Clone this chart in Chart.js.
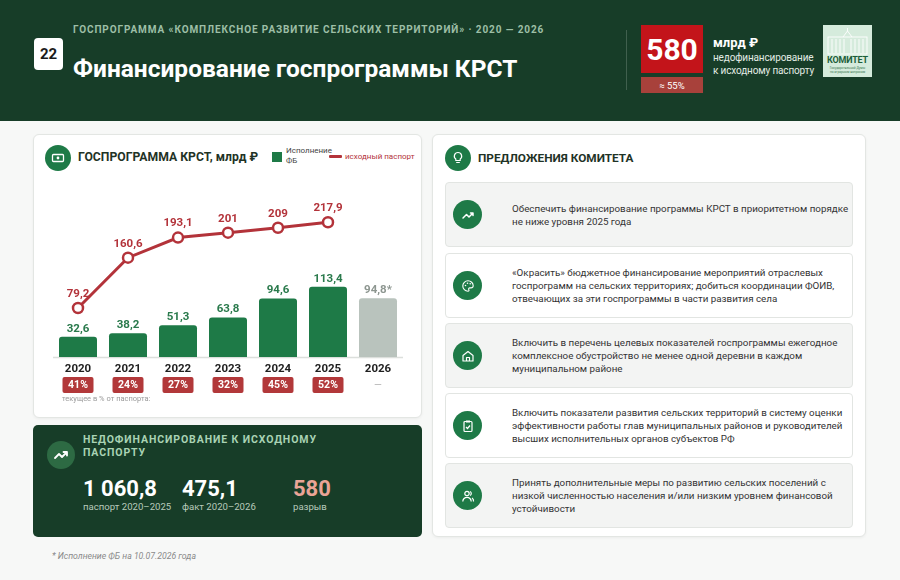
<!DOCTYPE html>
<html lang="ru">
<head>
<meta charset="utf-8">
<title>Финансирование госпрограммы КРСТ</title>
<script src="https://cdn.jsdelivr.net/npm/chart.js"></script>
<style>
  * { box-sizing: border-box; margin: 0; padding: 0; }
  body { width: 900px; height: 580px; background: #f7f8f7; font-family: Roboto, "Liberation Sans", Arial, sans-serif; position: relative; overflow: hidden; color: #333; }
  .abs { position: absolute; }
  .header { left: 0; top: 0; width: 900px; height: 121px; background: #173d28; }
  .kicker { left: 73px; top: 24px; font-size: 10px; font-weight: bold; letter-spacing: 0.9px; color: #9dbfa6; white-space: nowrap; }
  .badge { left: 34px; top: 38px; width: 29px; height: 32px; background: #fff; border-radius: 4px; font-weight: bold; font-size: 15px; color: #1a1a1a; display: flex; align-items: center; justify-content: center; }
  .title { left: 73px; top: 55px; font-size: 24.5px; line-height: 28px; font-weight: bold; color: #fff; white-space: nowrap; }
  .divider { left: 626px; top: 30px; width: 1px; height: 60px; background: rgba(255,255,255,0.18); }
  .bigbox { left: 641px; top: 25px; width: 62px; height: 48px; background: #c3141a; color: #fff; font-weight: bold; font-size: 30px; display: flex; align-items: center; justify-content: center; }
  .pctbox { left: 641px; top: 77px; width: 62px; height: 16px; background: #a8413b; color: #fff; font-size: 9.5px; display: flex; align-items: center; justify-content: center; }
  .unit { left: 713px; top: 35px; color: #fff; font-size: 13px; font-weight: bold; white-space: nowrap; }
  .unitsub { left: 713px; top: 51px; color: #e2ebe4; font-size: 10px; line-height: 13px; letter-spacing: -0.15px; white-space: nowrap; }
  .logo { left: 823px; top: 25px; width: 49px; height: 52px; background: #d5ebdc; overflow: hidden; }
  .logo .lt { position: absolute; left: 0; top: 30px; width: 49px; text-align: center; font-size: 9px; font-weight: bold; color: #1d5e3a; letter-spacing: -0.2px; }
  .logo .ls { position: absolute; left: 2px; width: 45px; text-align: center; font-size: 3.2px; color: #3f7a55; white-space: nowrap; }

  .card { background: #fff; border: 1px solid #e3e6e3; border-radius: 6px; box-shadow: 0 1px 3px rgba(0,0,0,0.05); }
  .circ { border-radius: 50%; background: #1e7a47; display: flex; align-items: center; justify-content: center; }
  .cardtitle { font-weight: bold; font-size: 12.2px; color: #1f3326; white-space: nowrap; }
  .leg { font-size: 8px; color: #444; line-height: 10px; white-space: nowrap; }

  .item { position: absolute; left: 445px; width: 408px; height: 65px; border: 1px solid #e2e5e2; border-radius: 4px; display: flex; align-items: center; }
  .item.g { background: #f3f4f3; }
  .item.w { background: #fff; }
  .item .ic { position: absolute; left: 7px; top: 17px; width: 29px; height: 29px; }
  .item .tx { margin-left: 66px; font-size: 9.8px; line-height: 13px; color: #333; white-space: nowrap; }

  .dark { left: 33px; top: 425px; width: 389px; height: 112px; background: #173d28; border-radius: 5px; }
  .dtitle { left: 83px; top: 433px; font-size: 10.5px; line-height: 13px; font-weight: bold; letter-spacing: 0.9px; color: #a9d3b4; white-space: nowrap; }
  .num { font-size: 22px; font-weight: bold; color: #fff; white-space: nowrap; }
  .numsub { font-size: 9.6px; color: #b8cabb; white-space: nowrap; }
  .foot { left: 52px; top: 551px; font-size: 8.7px; font-style: italic; color: #8a8a8a; }
</style>
</head>
<body>

<div class="abs header"></div>
<div class="abs kicker">ГОСПРОГРАММА «КОМПЛЕКСНОЕ РАЗВИТИЕ СЕЛЬСКИХ ТЕРРИТОРИЙ» · 2020 — 2026</div>
<div class="abs badge">22</div>
<div class="abs title">Финансирование госпрограммы КРСТ</div>
<div class="abs divider"></div>
<div class="abs bigbox">580</div>
<div class="abs pctbox">≈ 55%</div>
<div class="abs unit">млрд ₽</div>
<div class="abs unitsub">недофинансирование<br>к исходному паспорту</div>
<div class="abs logo">
  <svg width="49" height="30" viewBox="0 0 49 30" style="position:absolute;left:0;top:0">
    <g fill="none" stroke="#ffffff" stroke-width="0.9">
      <path d="M20 12 L24.5 6 L29 12"/>
      <path d="M24.5 6 V3"/>
      <rect x="5" y="12" width="39" height="17"/>
      <path d="M9 14v14 M13 14v14 M17 14v14 M21 14v14 M28 14v14 M32 14v14 M36 14v14 M40 14v14"/>
    </g>
  </svg>
  <div class="lt">КОМИТЕТ</div>
  <div class="ls" style="top:41px">Государственной Думы</div>
  <div class="ls" style="top:45px">по аграрным вопросам</div>
</div>

<!-- левая карточка с графиком -->
<div class="abs card" style="left:33px;top:134px;width:389px;height:284px;"></div>
<div class="abs circ" style="left:45px;top:145px;width:26px;height:26px;">
  <svg width="14" height="14" viewBox="0 0 14 14"><rect x="1.5" y="3.5" width="11" height="7" rx="1" fill="none" stroke="#fff" stroke-width="1.3"/><circle cx="7" cy="7" r="1.4" fill="#fff"/></svg>
</div>
<div class="abs cardtitle" style="left:78px;top:150px;">ГОСПРОГРАММА КРСТ, млрд ₽</div>
<div class="abs" style="left:272px;top:152px;width:10px;height:10px;background:#1e7a47;"></div>
<div class="abs leg" style="left:286px;top:146px;">Исполнение<br>ФБ</div>
<div class="abs" style="left:329px;top:155px;width:13px;height:3px;background:#b3333a;border-radius:1px;"></div>
<div class="abs leg" style="left:345px;top:152px;color:#b3333a;">исходный паспорт</div>
<canvas id="krstChart" class="abs" style="left:33px;top:180px;" width="389" height="230"></canvas>

<!-- недофинансирование -->
<div class="abs dark"></div>
<div class="abs circ" style="left:47px;top:441px;width:28px;height:28px;background:#2d6a43;">
  <svg width="16" height="16" viewBox="0 0 16 16"><path d="M2 11 L6 7 L9 10 L14 5 M10.5 5 H14 V8.5" fill="none" stroke="#fff" stroke-width="1.8" stroke-linecap="round" stroke-linejoin="round"/></svg>
</div>
<div class="abs dtitle">НЕДОФИНАНСИРОВАНИЕ К ИСХОДНОМУ<br>ПАСПОРТУ</div>
<div class="abs num" style="left:83px;top:476px;">1 060,8</div>
<div class="abs numsub" style="left:83px;top:501px;">паспорт 2020–2025</div>
<div class="abs num" style="left:182px;top:476px;">475,1</div>
<div class="abs numsub" style="left:182px;top:501px;">факт 2020–2026</div>
<div class="abs num" style="left:293px;top:476px;color:#e9a496;">580</div>
<div class="abs numsub" style="left:293px;top:501px;">разрыв</div>
<div class="abs foot">* Исполнение ФБ на 10.07.2026 года</div>

<!-- правая карточка -->
<div class="abs card" style="left:432px;top:134px;width:434px;height:403px;"></div>
<div class="abs circ" style="left:445px;top:145px;width:26px;height:26px;">
  <svg width="14" height="14" viewBox="0 0 14 14"><path d="M7 1.5 a3.6 3.6 0 0 1 2.2 6.5 V9.5 H4.8 V8 A3.6 3.6 0 0 1 7 1.5 Z M5.2 11.5 H8.8" fill="none" stroke="#fff" stroke-width="1.2" stroke-linejoin="round"/></svg>
</div>
<div class="abs cardtitle" style="left:478px;top:151px;font-size:11.8px;">ПРЕДЛОЖЕНИЯ КОМИТЕТА</div>

<div class="item g" style="top:182px;">
  <div class="ic circ"><svg width="14" height="14" viewBox="0 0 14 14"><path d="M2 10 L5.5 6.5 L8 9 L12 5 M9.5 5 H12 V7.5" fill="none" stroke="#fff" stroke-width="1.5" stroke-linecap="round" stroke-linejoin="round"/></svg></div>
  <div class="tx">Обеспечить финансирование программы КРСТ в приоритетном порядке<br>не ниже уровня 2025 года</div>
</div>
<div class="item w" style="top:253px;">
  <div class="ic circ"><svg width="14" height="14" viewBox="0 0 14 14"><path d="M7 1.8 A5.2 5.2 0 1 0 7 12.2 c1 0 1.2-0.8 0.8-1.5 c-0.5-0.9 0-1.8 1-1.8 H10 A2.2 2.2 0 0 0 12.2 6.8 C12.2 4 9.9 1.8 7 1.8 Z" fill="none" stroke="#fff" stroke-width="1.1"/><circle cx="4.5" cy="6.5" r="0.8" fill="#fff"/><circle cx="6.5" cy="4.3" r="0.8" fill="#fff"/><circle cx="9.2" cy="4.8" r="0.8" fill="#fff"/></svg></div>
  <div class="tx">«Окрасить» бюджетное финансирование мероприятий отраслевых<br>госпрограмм на сельских территориях; добиться координации ФОИВ,<br>отвечающих за эти госпрограммы в части развития села</div>
</div>
<div class="item g" style="top:323px;">
  <div class="ic circ"><svg width="14" height="14" viewBox="0 0 14 14"><path d="M2 6.5 L7 2.5 L12 6.5 V12 H2 Z M5.5 12 V8.5 H8.5 V12" fill="none" stroke="#fff" stroke-width="1.2" stroke-linejoin="round"/></svg></div>
  <div class="tx">Включить в перечень целевых показателей госпрограммы ежегодное<br>комплексное обустройство не менее одной деревни в каждом<br>муниципальном районе</div>
</div>
<div class="item w" style="top:393px;">
  <div class="ic circ"><svg width="14" height="14" viewBox="0 0 14 14"><rect x="3" y="2.5" width="8" height="10" rx="1" fill="none" stroke="#fff" stroke-width="1.2"/><rect x="5" y="1.5" width="4" height="2" fill="#fff"/><path d="M5 8 L6.5 9.5 L9 6.5" fill="none" stroke="#fff" stroke-width="1.2"/></svg></div>
  <div class="tx">Включить показатели развития сельских территорий в систему оценки<br>эффективности работы глав муниципальных районов и руководителей<br>высших исполнительных органов субъектов РФ</div>
</div>
<div class="item g" style="top:463px;">
  <div class="ic circ"><svg width="14" height="14" viewBox="0 0 14 14"><circle cx="6" cy="4.5" r="2.2" fill="none" stroke="#fff" stroke-width="1.2"/><path d="M1.8 12.5 a4.2 4.2 0 0 1 8.4 0" fill="none" stroke="#fff" stroke-width="1.2"/><path d="M9 2.5 a2.2 2.2 0 0 1 0 4 M11 9 a3.5 3.5 0 0 1 1.5 3.5" fill="none" stroke="#fff" stroke-width="1.2"/></svg></div>
  <div class="tx">Принять дополнительные меры по развитию сельских поселений с<br>низкой численностью населения и/или низким уровнем финансовой<br>устойчивости</div>
</div>

<script>
// данные графика
const years = ['2020', '2021', '2022', '2023', '2024', '2025', '2026'];
const budgetExecution = [32.6, 38.2, 51.3, 63.8, 94.6, 113.4, 94.8];   // исполнение ФБ, млрд ₽
const passportPlan = [79.2, 160.6, 193.1, 201, 209, 217.9, null];      // исходный паспорт, млрд ₽
const shareOfPassport = [41, 24, 27, 32, 45, 52, null];                // текущее в % от паспорта
const barColors = ['#1e7a47', '#1e7a47', '#1e7a47', '#1e7a47', '#1e7a47', '#1e7a47', '#b9c3bd'];

const RED = '#b3333a';
const FONT = 'Roboto, "Liberation Sans", Arial, sans-serif';

function fmt(v) {
    return String(v).replace('.', ',');
}

// подписи, годы и плашки с процентами
const labelsPlugin = {
    id: 'krstLabels',
    beforeDatasetsDraw(chart) {
        const ctx = chart.ctx;
        const area = chart.chartArea;
        const y0 = chart.scales.y.getPixelForValue(0);
        ctx.save();
        ctx.strokeStyle = '#dcdfdc';
        ctx.lineWidth = 1.5;
        ctx.beginPath();
        ctx.moveTo(area.left, y0 + 0.5);
        ctx.lineTo(area.right, y0 + 0.5);
        ctx.stroke();
        ctx.restore();
    },
    afterDatasetsDraw(chart) {
        const ctx = chart.ctx;
        const y0 = chart.scales.y.getPixelForValue(0);
        const bars = chart.getDatasetMeta(1).data;
        const points = chart.getDatasetMeta(0).data;
        ctx.save();
        ctx.textAlign = 'center';
        ctx.textBaseline = 'middle';

        // значения столбцов
        ctx.font = 'bold 11.5px ' + FONT;
        bars.forEach((bar, i) => {
            const last = i === years.length - 1;
            ctx.fillStyle = last ? '#8d9690' : '#2a7a4c';
            ctx.fillText(fmt(budgetExecution[i]) + (last ? '*' : ''), bar.x, bar.y - 8);
        });

        // значения паспорта
        ctx.fillStyle = RED;
        points.forEach((pt, i) => {
            if (passportPlan[i] == null) return;
            ctx.fillText(fmt(passportPlan[i]), pt.x, pt.y - 14);
        });

        // годы
        ctx.fillStyle = '#1f1f1f';
        ctx.font = 'bold 11.5px ' + FONT;
        bars.forEach((bar, i) => {
            ctx.fillText(years[i], bar.x, y0 + 12);
        });

        // плашки процентов
        bars.forEach((bar, i) => {
            const cy = y0 + 28;
            if (shareOfPassport[i] == null) {
                ctx.fillStyle = '#b5b5b5';
                ctx.font = '10px ' + FONT;
                ctx.fillText('—', bar.x, cy);
                return;
            }
            const w = 31, h = 16;
            ctx.fillStyle = '#b2383a';
            ctx.beginPath();
            ctx.roundRect(bar.x - w / 2, cy - h / 2, w, h, 2);
            ctx.fill();
            ctx.fillStyle = '#fff';
            ctx.font = 'bold 10.5px ' + FONT;
            ctx.fillText(shareOfPassport[i] + '%', bar.x, cy + 0.5);
        });

        ctx.textAlign = 'left';
        ctx.fillStyle = '#9a9a9a';
        ctx.font = '7.5px ' + FONT;
        ctx.fillText('текущее в % от паспорта:', bars[0].x - 16, y0 + 42);
        ctx.restore();
    }
};

new Chart(document.getElementById('krstChart'), {
    data: {
        labels: years,
        datasets: [
            {
                type: 'line',
                label: 'исходный паспорт',
                data: passportPlan,
                borderColor: RED,
                borderWidth: 3,
                pointRadius: 5,
                pointBorderWidth: 2.5,
                pointBackgroundColor: '#fff',
                pointBorderColor: RED,
                tension: 0,
                spanGaps: false,
                order: 0
            },
            {
                type: 'bar',
                label: 'Исполнение ФБ',
                data: budgetExecution,
                backgroundColor: barColors,
                borderRadius: { topLeft: 3, topRight: 3 },
                borderSkipped: 'bottom',
                categoryPercentage: 1,
                barPercentage: 0.76,
                order: 1
            }
        ]
    },
    options: {
        responsive: false,
        animation: false,
        layout: { padding: { left: 20, right: 19, top: 10, bottom: 53 } },
        plugins: {
            legend: { display: false },
            tooltip: { enabled: false }
        },
        scales: {
            x: { display: false },
            y: { display: false, min: 0, max: 270 }
        }
    },
    plugins: [labelsPlugin]
});
</script>
</body>
</html>
